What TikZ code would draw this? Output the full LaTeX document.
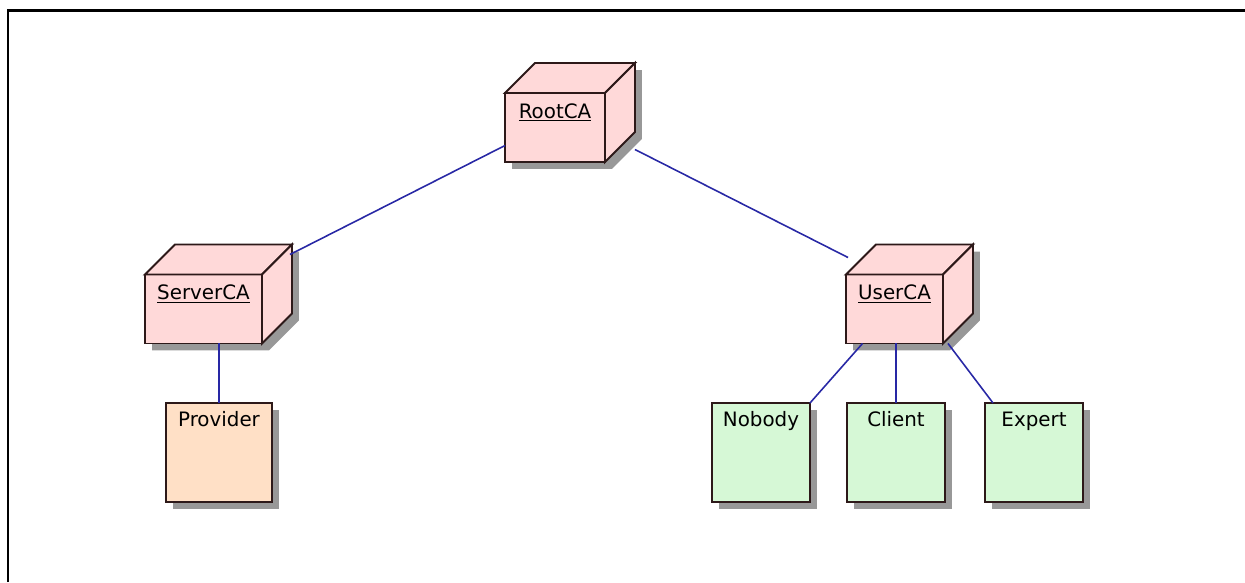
\documentclass[tikz,border=0pt]{standalone}
\usepackage{fontspec}
\setmainfont{DejaVu Sans}
\usetikzlibrary{backgrounds,shadows}

\definecolor{cafill}{RGB}{255,217,217}
\definecolor{provfill}{RGB}{255,224,198}
\definecolor{rolefill}{RGB}{214,248,214}
\definecolor{edge}{RGB}{45,25,25}
\definecolor{linkblue}{RGB}{40,40,165}
\definecolor{shadowgray}{RGB}{152,152,152}

% top and side faces of a cube node, with its shadow behind
\newcommand\cubefaces[1]{%
  \begin{scope}[on background layer]
    \fill[shadowgray] ([shift={(7,7)}]#1.north west) -- ++(30,-30)
      -- ([shift={(37,-23)}]#1.north east) -- ([shift={(37,-23)}]#1.south east)
      -- ([shift={(7,7)}]#1.south east) -- ([shift={(7,7)}]#1.south west) -- cycle;
  \end{scope}
  \draw[face] (#1.north west) -- ++(30,-30) -- ([shift={(30,-30)}]#1.north east) -- (#1.north east) -- cycle;
  \draw[face] (#1.north east) -- ++(30,-30) -- ([shift={(30,-30)}]#1.south east) -- (#1.south east) -- cycle;
}

\begin{document}
\begin{tikzpicture}[x=0.02cm, y=-0.02cm,
  every node/.style={font=\fontsize{11.3}{13}\selectfont, outer sep=0pt},
  face/.style={draw=edge, line width=1.1pt, fill=cafill, line join=miter},
  cube/.style={draw=edge, line width=1.1pt, fill=cafill, inner xsep=0pt, inner ysep=0.2cm,
    minimum height=1.38cm, text height=0.3cm, text depth=0.68cm},
  comp/.style={draw=edge, line width=1.1pt, inner xsep=0pt, inner ysep=0.16cm,
    minimum height=1.98cm, text height=0.3cm, text depth=1.36cm,
    drop shadow={shadow xshift=0.14cm, shadow yshift=-0.14cm, fill=shadowgray, opacity=1}},
  link/.style={draw=linkblue, line width=0.9pt}]
  \useasboundingbox (0,0) rectangle (1245,582);
  \draw[line width=0.05cm] (8,582) -- (8,10.5) -- (1245,10.5);

  % certificate authorities
  \node[cube, minimum width=2cm] (root) at (555,127.5) {\underline{RootCA}};
  \cubefaces{root}
  \node[cube, minimum width=2.34cm] (server) at (203.5,309) {\underline{ServerCA}};
  \cubefaces{server}
  \node[cube, minimum width=1.94cm] (user) at (894.5,309) {\underline{UserCA}};
  \cubefaces{user}

  % end entities
  \node[comp, fill=provfill, minimum width=2.12cm] (provider) at (219,452.5) {Provider};
  \node[comp, fill=rolefill, minimum width=1.96cm] (nobody) at (761,452.5) {Nobody};
  \node[comp, fill=rolefill, minimum width=1.96cm] (client) at (896,452.5) {Client};
  \node[comp, fill=rolefill, minimum width=1.96cm] (expert) at (1034,452.5) {Expert};

  \draw[link] ([shift={(0,18)}]root.west) -- ([shift={(28,-20)}]server.north east);
  \draw[link] ([shift={(30,22)}]root.east) -- ([shift={(2,-17)}]user.north west);
  \draw[link] (provider.north) -- (provider.north |- server.south);
  \draw[link] ([shift={(-32,0)}]user.south) -- (nobody.north east);
  \draw[link] (client.north) -- (client.north |- user.south);
  \draw[link] ([shift={(5,0)}]user.south east) -- ([shift={(8,0)}]expert.north west);
\end{tikzpicture}
\end{document}
